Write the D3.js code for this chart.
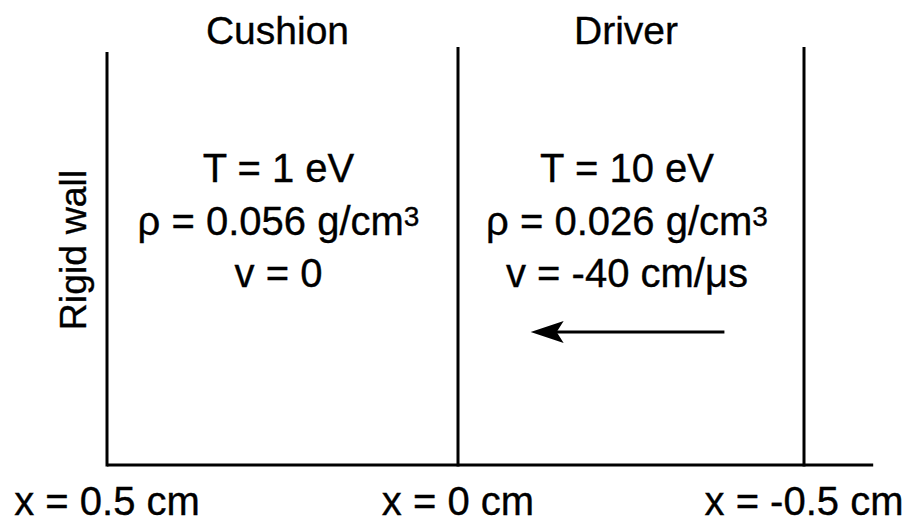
<!DOCTYPE html>
<html>
<head>
<meta charset="utf-8">
<script src="https://cdn.jsdelivr.net/npm/d3@7"></script>
<style>
  html, body { margin: 0; padding: 0; background: #fff; }
  svg text { font-family: "Liberation Sans", Arial, Helvetica, sans-serif; fill: #000; stroke: #000; stroke-width: 0.35px; }
</style>
</head>
<body>
<svg id="chart" width="910" height="525"></svg>
<script>
// ---- data ----
const boundaries = [0.5, 0, -0.5];                 // x positions of walls/interfaces (cm)
const boundaryLabels = ["x = 0.5 cm", "x = 0 cm", "x = -0.5 cm"];
const regionNames = ["Cushion", "Driver"];
const regionCenters = [0.25, -0.25];               // cm
const tempLines = ["T = 1 eV", "T = 10 eV"];
const densityValues = ["0.056", "0.026"];
const velocityLines = ["v = 0", "v = -40 cm/\u03bcs"];
const arrowFrom = -0.385, arrowTo = -0.105;       // cm, driver motion arrow
const axisEnd = -0.6;                              // cm
const wallLabel = "Rigid wall";

// ---- layout ----
const svg = d3.select("#chart");
const x = d3.scaleLinear().domain([0.5, 0, -0.5]).range([107, 458, 804]);
const yBottom = 465, yTopWall = 52, yTopInner = 47;
const fs = 40;

// bottom line
svg.append("line")
  .attr("x1", x(0.5)).attr("x2", x(axisEnd))
  .attr("y1", yBottom).attr("y2", yBottom)
  .attr("stroke", "#000").attr("stroke-width", 3);

// vertical lines
svg.selectAll("line.v").data(boundaries).enter().append("line")
  .attr("class", "v")
  .attr("x1", d => x(d)).attr("x2", d => x(d))
  .attr("y1", (d, i) => i === 0 ? yTopWall : yTopInner)
  .attr("y2", yBottom + 1.5)
  .attr("stroke", "#000").attr("stroke-width", 3);

// boundary labels
svg.selectAll("text.bl").data(boundaries).enter().append("text")
  .attr("class", "bl")
  .attr("x", d => x(d)).attr("y", 515)
  .attr("text-anchor", "middle")
  .style("font-size", fs + "px")
  .text((d, i) => boundaryLabels[i]);

// region titles
svg.selectAll("text.rn").data(regionCenters).enter().append("text")
  .attr("class", "rn")
  .attr("x", d => x(d) - 5).attr("y", 44)
  .attr("text-anchor", "middle")
  .style("font-size", "39px")
  .text((d, i) => regionNames[i]);

// property lines
const props = svg.selectAll("g.props").data(regionCenters).enter().append("g")
  .attr("class", "props")
  .attr("transform", d => `translate(${x(d) - 4},0)`);

props.append("text").attr("y", 182).attr("text-anchor", "middle")
  .style("font-size", fs + "px")
  .text((d, i) => tempLines[i]);

const rho = props.append("text").attr("y", 235).attr("text-anchor", "middle")
  .style("font-size", fs + "px");
rho.append("tspan").text((d, i) => "\u03c1 = " + densityValues[i] + " g/cm");
rho.append("tspan").attr("dy", -9).style("font-size", "28px").text("3");

props.append("text").attr("y", 287).attr("text-anchor", "middle")
  .style("font-size", fs + "px")
  .text((d, i) => velocityLines[i]);

// arrow
const ay = 332;
svg.append("line")
  .attr("x1", x(arrowFrom)).attr("x2", x(arrowTo) + 20)
  .attr("y1", ay).attr("y2", ay)
  .attr("stroke", "#000").attr("stroke-width", 3);
const tip = x(arrowTo);
svg.append("path")
  .attr("d", `M${tip},${ay} L${tip + 33},${ay - 11} L${tip + 26},${ay} L${tip + 33},${ay + 11} Z`)
  .attr("fill", "#000");

// rigid wall label
svg.append("text")
  .attr("transform", `translate(86,250) rotate(-90)`)
  .attr("text-anchor", "middle")
  .style("font-size", "37.5px")
  .text(wallLabel);
</script>
</body>
</html>
